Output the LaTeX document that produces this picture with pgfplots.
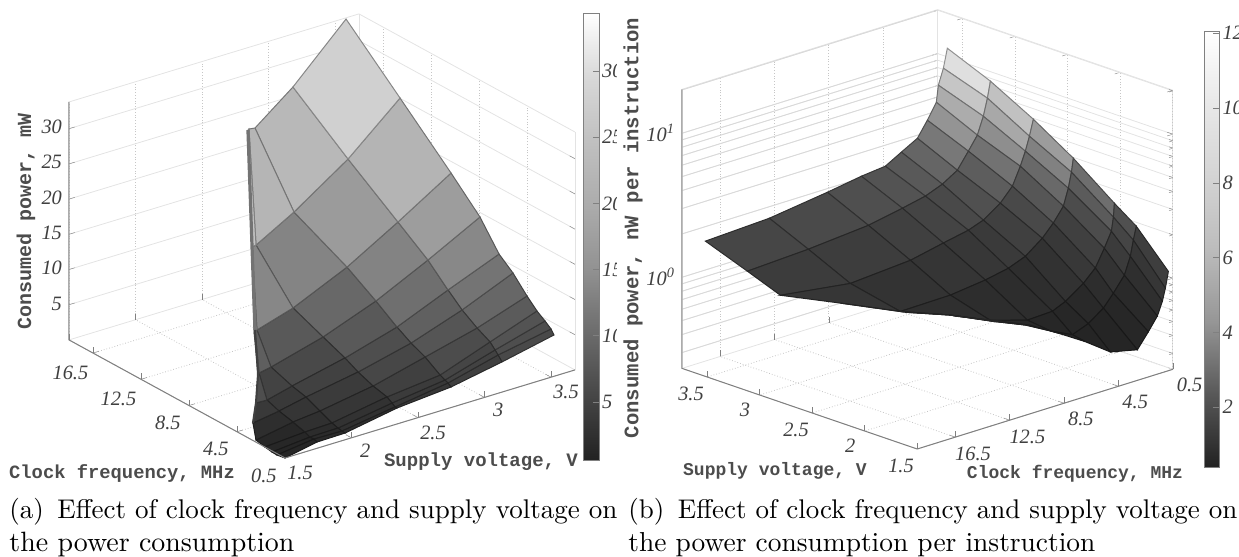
\documentclass[border=0pt]{standalone}
\usepackage{graphicx}
\usepackage{fontspec}
\usepackage{pgfplots}
\pgfplotsset{compat=1.18}
\newfontfamily\tickfont{Liberation Serif}
\newfontfamily\labfont{Liberation Mono}
\definecolor{labc}{gray}{0.3}
\newcommand{\tk}{\tickfont\itshape\fontsize{10.2}{12}\selectfont\color{black!75}}
\pgfplotsset{
  colormap={powera}{rgb255=(34,34,34) rgb255=(70,70,70) rgb255=(108,108,108) rgb255=(146,146,146) rgb255=(172,172,172) rgb255=(192,192,192) rgb255=(216,216,216) rgb255=(255,255,255)},
  colormap={powerb}{rgb255=(34,34,34) rgb255=(88,88,88) rgb255=(150,150,150) rgb255=(188,188,188) rgb255=(212,212,212) rgb255=(232,232,232) rgb255=(255,255,255)},
  wall/.style={
    clip=false, grid=major, tick pos=left,
    axis line style={gray!22},
    tick style={gray}, major tick length=3pt,
    minor tick length=2pt,
    tick label style={font=\tk},
    x grid style={gray!45,densely dotted},
    y grid style={gray!45,densely dotted},
    z grid style={gray!22,solid},
  },
  cbar/.style={
    scale only axis,
    axis line style={gray},
    tick style={gray},
    major tick length=3pt,
    ytick pos=right,
    yticklabel pos=right,
    yticklabel style={font=\tk, xshift=-2pt},
  },
}
\begin{document}
\begin{tikzpicture}
\useasboundingbox (0pt,0pt) rectangle (619.5pt,-278.5pt);

\begin{axis}[wall, at={(34.5pt,-229pt)}, anchor=south west,
  x={(66.5pt,20.2pt)}, y={(-6pt,3.28pt)}, z={(0pt,3.52pt)},
  xmin=1.5, xmax=3.68, ymin=0.5, ymax=18.5, zmin=0, zmax=33.8,
  xtick={1.5,2,2.5,3,3.5}, xticklabels={1.5,2,2.5,3,3.5},
  ytick={0.5,4.5,8.5,12.5,16.5}, yticklabels={0.5,4.5,8.5,12.5,16.5},
  ztick={5,10,15,20,25,30}, zticklabels={5,10,15,20,25,30},
  xticklabel style={xshift=2.5pt, yshift=1pt},
  yticklabel style={xshift=-4pt},
  colormap name=powera, point meta min=0.6, point meta max=34.4,
  colorbar,
  colorbar style={cbar, at={(parent axis.south east)}, anchor=south west,
    xshift=-4.5pt, yshift=-1pt, width=8pt, height=223.5pt,
    ytick={5,10,15,20,25,30}, yticklabels={5,10,15,20,25,30}},
]
\addplot3[surf, z buffer=sort, shader=faceted, faceted color=mapped color!65!black, line width=0.5pt,
  mesh/rows=11, mesh/cols=7] table[row sep=\\] {
x y z\\
3.5 0.25 6.23\\ 3.1 0.15 4.79\\ 2.7 -0.03 3.69\\ 2.3 0.03 2.95\\ 1.9 -0.07 1.78\\ 1.7 0.05 1.54\\ 1.5 0.5 0\\
3.5 0.5 6.85\\ 3.1 0.48 5.47\\ 2.7 0.22 4.03\\ 2.3 0.2 2.94\\ 1.9 0.18 1.83\\ 1.7 0.3 1.73\\ 1.5 1.17 -0.2\\
3.5 1 7.52\\ 3.1 0.73 5.95\\ 2.7 0.47 4.22\\ 2.3 0.45 3.27\\ 1.9 0.52 1.94\\ 1.7 0.63 1.71\\ 1.5 1.58 -0.16\\
3.5 1.67 8.32\\ 3.1 1.15 6.7\\ 2.7 0.88 4.54\\ 2.3 0.87 3.74\\ 1.9 1.02 2.19\\ 1.7 1.05 2.03\\ 1.5 2.17 0.01\\
3.5 2.5 9.67\\ 3.1 2.23 7.67\\ 2.7 2.13 5.94\\ 2.3 2.03 4.21\\ 1.9 2.02 2.96\\ 1.7 2.05 2.52\\ 1.5 2.92 0.31\\
3.5 3.67 11.85\\ 3.1 3.48 9.07\\ 2.7 3.3 6.83\\ 2.3 3.28 5.03\\ 1.9 3.18 3.86\\ 1.7 3.22 2.99\\ 1.5 3.17 2.49\\
3.5 4.83 13.46\\ 3.1 4.65 10.82\\ 2.7 4.47 8.02\\ 2.3 4.37 6.01\\ 1.9 4.35 4.34\\ 1.7 4.22 3.62\\ 1.5 2.92 5.56\\
3.5 6.42 17.24\\ 3.1 6.32 13.52\\ 2.7 6.22 10.09\\ 2.3 6.2 7.29\\ 1.9 6.1 5.41\\ 1.7 4.88 6.84\\ 1.5 2.75 9.83\\
3.5 8.83 21.24\\ 3.1 8.82 16.59\\ 2.7 8.63 12.66\\ 2.3 8.7 9.08\\ 1.9 7.27 9.58\\ 1.7 5.22 12.64\\ 1.5 3.08 15.49\\
3.5 13.08 27.93\\ 3.1 12.98 21.66\\ 2.7 13.05 16.36\\ 2.3 11.78 15.15\\ 1.9 7.68 20.98\\ 1.9 7.68 20.98\\ 1.9 7.68 20.98\\
3.5 17.58 34.96\\ 3.1 17.57 27.61\\ 2.7 16.3 25.26\\ 2.3 12.37 31.08\\ 1.9 8.02 37.28\\ 1.9 8.02 37.28\\ 1.9 8.02 37.28\\
};
\addplot3[no marks, draw=black!55, line width=1.6pt] coordinates {(1.9,8.02,37.28)(1.9,7.68,20.98)(1.7,5.22,12.64)};
\addplot3[no marks, draw=black!75, line width=1pt] coordinates {(1.7,5.22,12.64)(1.5,2.75,9.83)(1.5,2.92,5.56)(1.5,3.17,2.49)};
\addplot3[no marks, draw=gray, line width=0.5pt] coordinates {(3.68,0.5,0)(1.5,0.5,0)(1.5,18.5,0)(1.5,18.5,33.8)};
\end{axis}

\fill[white] (308.5pt,0pt) rectangle (311.5pt,-240pt);

\begin{axis}[wall, at={(341pt,-224.5pt)}, anchor=south west,
  x={(-52.5pt,18pt)}, y={(-6.8pt,-2.12pt)}, z={(0pt,72pt)},
  zmode=log, log basis z=10,
  xmin=1.5, xmax=3.74, ymin=0.5, ymax=19.3, zmin=0.233, zmax=20.2,
  xtick={1.5,2,2.5,3,3.5}, xticklabels={1.5,2,2.5,3,3.5},
  ytick={0.5,4.5,8.5,12.5,16.5}, yticklabels={0.5,4.5,8.5,12.5,16.5},
  ztick={1,10}, zticklabels={10\textsuperscript{0},10\textsuperscript{1}},
  minor ztick={0.3,0.4,0.5,0.6,0.7,0.8,0.9,2,3,4,5,6,7,8,9,20},
  xticklabel style={xshift=-2pt},
  yticklabel style={xshift=2.5pt, yshift=0.5pt},
  zminorgrids, minor z grid style={gray!22,solid},
  colormap name=powerb, point meta=rawz, point meta min=0.4, point meta max=12.06,
  colorbar,
  colorbar style={cbar, at={(parent axis.south east)}, anchor=south west,
    xshift=7.25pt, yshift=-9pt, width=7.5pt, height=218pt,
    ytick={2,4,6,8,10,12}, yticklabels={2,4,6,8,10,12}},
]
\addplot3[no marks, draw=gray!30, line width=0.4pt, unbounded coords=jump] coordinates {
  (3.74,19.3,0.3)(3.74,0.5,0.3)(nan,nan,nan)
  (3.74,19.3,0.4)(3.74,0.5,0.4)(nan,nan,nan)
  (3.74,19.3,0.5)(3.74,0.5,0.5)(nan,nan,nan)
  (3.74,19.3,0.6)(3.74,0.5,0.6)(nan,nan,nan)
  (3.74,19.3,0.7)(3.74,0.5,0.7)(nan,nan,nan)
  (3.74,19.3,0.8)(3.74,0.5,0.8)(nan,nan,nan)
  (3.74,19.3,0.9)(3.74,0.5,0.9)(nan,nan,nan)
  (3.74,19.3,1)(3.74,0.5,1)(nan,nan,nan)
  (3.74,19.3,2)(3.74,0.5,2)(nan,nan,nan)
  (3.74,19.3,3)(3.74,0.5,3)(nan,nan,nan)
  (3.74,19.3,4)(3.74,0.5,4)(nan,nan,nan)
  (3.74,19.3,5)(3.74,0.5,5)(nan,nan,nan)
  (3.74,19.3,6)(3.74,0.5,6)(nan,nan,nan)
  (3.74,19.3,7)(3.74,0.5,7)(nan,nan,nan)
  (3.74,19.3,8)(3.74,0.5,8)(nan,nan,nan)
  (3.74,19.3,9)(3.74,0.5,9)(nan,nan,nan)
  (3.74,19.3,10)(3.74,0.5,10)(nan,nan,nan)
  (3.74,19.3,20)(3.74,0.5,20)
};
\addplot3[surf, z buffer=sort, shader=faceted, faceted color=mapped color!65!black, line width=0.5pt,
  mesh/rows=12, mesh/cols=7] table[row sep=\\] {
x y z\\
3.6 0.87 12.1\\ 3.2 0.79 8.95\\ 2.8 0.72 6.10\\ 2.4 0.87 4.16\\ 2.0 0.94 2.56\\ 1.8 0.87 1.98\\ 1.5 0.83 1.14\\
3.6 1.16 8.97\\ 3.2 1.01 6.92\\ 2.8 1.01 4.74\\ 2.4 1.01 3.36\\ 2.0 1.01 2.06\\ 1.8 1.09 1.61\\ 1.5 1.05 0.885\\
3.6 1.53 7.01\\ 3.2 1.31 5.29\\ 2.8 1.31 3.81\\ 2.4 1.24 2.64\\ 2.0 1.16 1.66\\ 1.8 1.31 1.26\\ 1.5 1.27 0.73\\
3.6 1.68 5.39\\ 3.2 1.75 4.03\\ 2.8 1.68 3.07\\ 2.4 1.60 2.03\\ 2.0 1.68 1.31\\ 1.8 1.75 0.96\\ 1.5 1.64 0.59\\
3.6 2.34 4.23\\ 3.2 2.41 3.26\\ 2.8 2.26 2.32\\ 2.4 2.34 1.63\\ 2.0 2.34 1.00\\ 1.8 2.56 0.76\\ 1.5 2.30 0.48\\
3.6 3.07 3.33\\ 3.2 3.22 2.54\\ 2.8 3.15 1.88\\ 2.4 3.15 1.35\\ 2.0 3.22 0.83\\ 1.8 3.29 0.63\\ 1.5 3.11 0.38\\
3.6 4.25 2.89\\ 3.2 4.32 2.19\\ 2.8 4.40 1.56\\ 2.4 4.40 1.10\\ 2.0 4.54 0.68\\ 1.8 4.40 0.53\\ 1.5 5.10 0.42\\
3.6 5.43 2.50\\ 3.2 5.57 1.97\\ 2.8 5.50 1.43\\ 2.4 5.65 0.99\\ 2.0 5.50 0.62\\ 1.8 5.57 0.48\\ 1.5 6.93 0.56\\
3.6 7.19 2.40\\ 3.2 7.26 1.82\\ 2.8 7.34 1.32\\ 2.4 7.34 0.92\\ 2.0 7.34 0.61\\ 1.8 7.19 0.57\\ 1.5 8.77 0.72\\
3.6 9.69 2.20\\ 3.2 9.76 1.64\\ 2.8 9.76 1.18\\ 2.4 9.91 0.86\\ 2.0 10.06 0.73\\ 1.8 9.03 0.71\\ 1.5 10.98 0.96\\
3.6 13.96 1.94\\ 3.2 14.18 1.51\\ 2.8 14.18 1.10\\ 2.4 13.59 0.85\\ 2.0 13.0 0.97\\ 1.8 11.24 0.87\\ 1.5 13.18 1.19\\
3.6 18.66 1.85\\ 3.2 18.66 1.44\\ 2.8 19.32 1.29\\ 2.4 18.0 1.31\\ 2.0 16.31 1.27\\ 1.8 14.54 1.21\\ 1.5 16.49 1.61\\
};
\addplot3[no marks, draw=gray, line width=0.5pt] coordinates {(1.5,0.5,0.233)(1.5,19.3,0.233)};
\addplot3[no marks, draw=gray, line width=0.5pt] coordinates {(1.5,19.3,0.233)(3.74,19.3,0.233)(3.74,19.3,20.2)};
\end{axis}

% axis labels and captions, placed in page coordinates (half a pixel per pt)
\tikzset{lab/.style={font=\labfont\bfseries\fontsize{10}{12}\selectfont, text=labc, inner sep=0pt}}
\node[lab, rotate=90] at (13pt,-110.5pt) {Consumed power, mW};
\node[lab, font=\labfont\bfseries\fontsize{9.5}{12}\selectfont] at (240.5pt,-231pt) {Supply voltage, V};
\node[lab, font=\labfont\bfseries\fontsize{9.4}{12}\selectfont] at (61pt,-236.5pt) {Clock frequency, MHz};
\node[lab, rotate=90, font=\labfont\bfseries\fontsize{10.3}{12}\selectfont] at (316.5pt,-114pt) {Consumed power, nW per instruction};
\node[lab, font=\labfont\bfseries\fontsize{9}{12}\selectfont] at (387.5pt,-235.5pt) {Supply voltage, V};
\node[lab, font=\labfont\bfseries\fontsize{9}{12}\selectfont] at (537.5pt,-237pt) {Clock frequency, MHz};

\tikzset{capt/.style={anchor=base west, inner sep=0pt}}
\node[capt] at (4.5pt,-259pt) {\resizebox{304pt}{!}{(a)\, Effect of clock frequency and supply voltage on}};
\node[capt] at (4.5pt,-275.5pt) {\resizebox{142.5pt}{!}{the power consumption}};
\node[capt] at (314pt,-259pt) {\resizebox{304.5pt}{!}{(b)\, Effect of clock frequency and supply voltage on}};
\node[capt] at (314pt,-275.5pt) {\resizebox{233.5pt}{!}{the power consumption per instruction}};
\end{tikzpicture}
\end{document}
